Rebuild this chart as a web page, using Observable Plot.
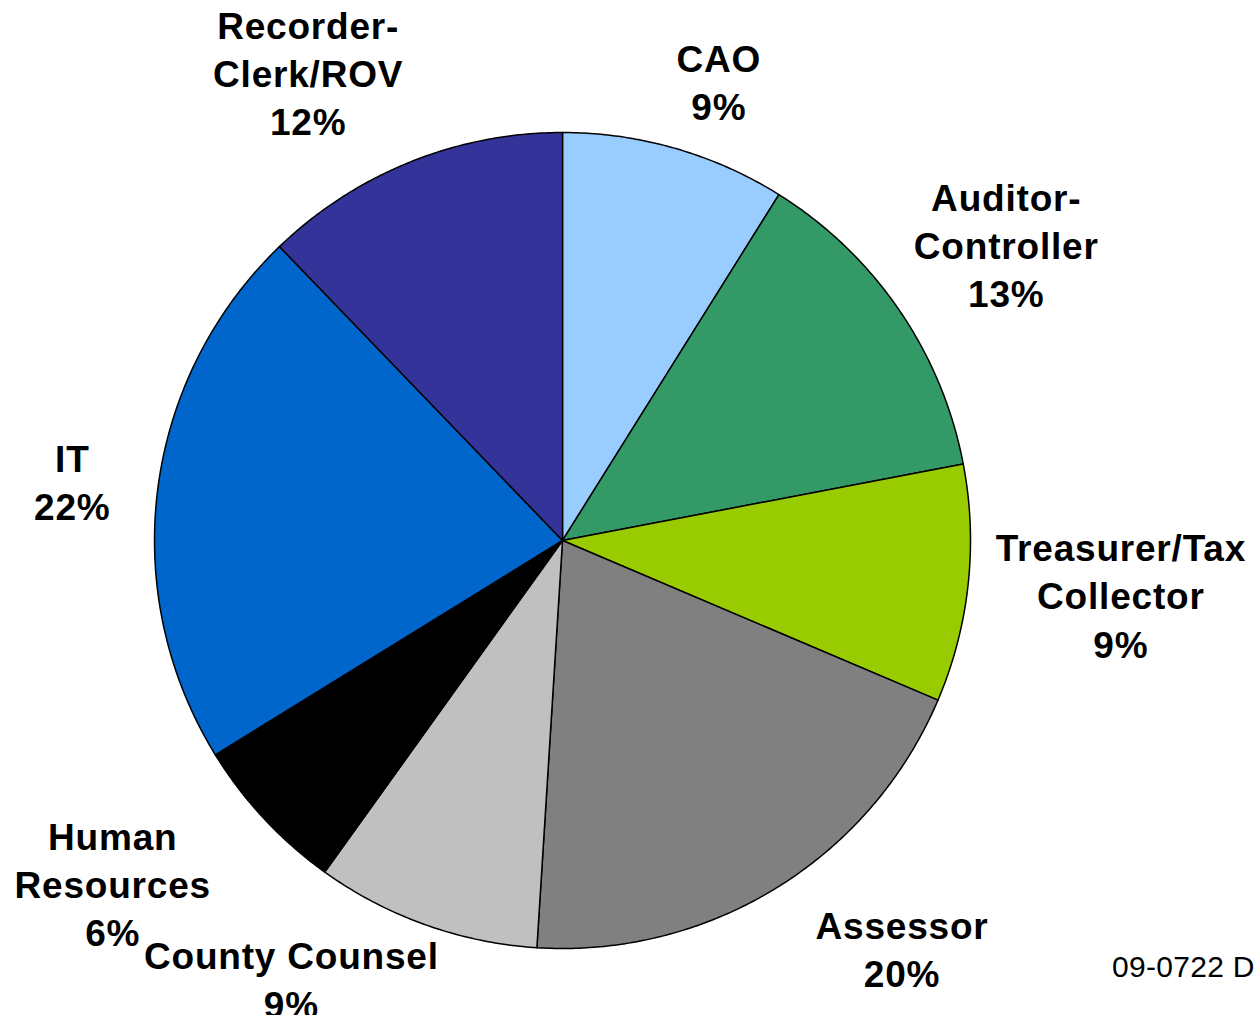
<!DOCTYPE html>
<html>
<head>
<meta charset="utf-8">
<script src="https://cdn.jsdelivr.net/npm/d3@7"></script>
<script src="https://cdn.jsdelivr.net/npm/@observablehq/plot@0.6"></script>
<style>
  html, body { margin: 0; padding: 0; background: #fff; }
  #wrap { position: relative; width: 1259px; height: 1015px; overflow: hidden; }
  .pie g[aria-label="text"] text { letter-spacing: 0.8px; }
  #code { position: absolute; left: 1112px; top: 952px; font: 30px "Liberation Sans", Arial, sans-serif; line-height: 30px; color: #000; letter-spacing: 0.3px; white-space: nowrap; }
</style>
</head>
<body>
<div id="wrap"><div id="chart"></div><div id="code">09-0722 D</div></div>
<script>
// ---- data ----
const names = ["CAO", "Auditor-\nController", "Treasurer/Tax\nCollector", "Assessor", "County Counsel", "Human\nResources", "IT", "Recorder-\nClerk/ROV"];
const values = [8.9, 13.1, 9.4, 19.6, 8.9, 6.3, 21.6, 12.2];
const colors = ["#99CCFF", "#339966", "#99CC00", "#808080", "#C0C0C0", "#000000", "#0066CC", "#333399"];

// ---- layout (label nudges in px, relative to a point outside each slice's mid angle) ----
const R = 408;
const labelNudge = [[10, 50], [6, 3], [31, -3], [61, -44], [-93, -62], [-62, -20], [36, 7], [-56, 23]];

const total = d3.sum(values);
const arcs = d3.pie().sort(null).value(d => d)(values);

const slicePts = [];
arcs.forEach((a, i) => {
  slicePts.push({name: names[i], x: 0, y: 0});
  const n = Math.max(2, Math.ceil((a.endAngle - a.startAngle) / (Math.PI / 360)));
  for (let k = 0; k <= n; k++) {
    const t = a.startAngle + (a.endAngle - a.startAngle) * k / n;
    slicePts.push({name: names[i], x: Math.sin(t), y: Math.cos(t)});
  }
});

const labels = arcs.map((a, i) => {
  const m = (a.startAngle + a.endAngle) / 2;
  const [dx, dy] = labelNudge[i];
  return {
    name: names[i],
    text: names[i] + "\n" + Math.round(values[i] / total * 100) + "%",
    x: 1.3 * Math.sin(m) + dx / R,
    y: 1.3 * Math.cos(m) - dy / R
  };
});

const chart = Plot.plot({
  className: "pie",
  width: 1259,
  height: 1015,
  marginLeft: 154,
  marginRight: 289,
  marginTop: 132,
  marginBottom: 67,
  x: {domain: [-1, 1], axis: null},
  y: {domain: [-1, 1], axis: null},
  color: {type: "ordinal", domain: names, range: colors},
  marks: [
    Plot.line(slicePts, {x: "x", y: "y", z: "name", fill: "name", stroke: "#000", strokeWidth: 1.5, curve: "linear-closed", strokeLinejoin: "round"}),
    Plot.text(labels, {x: "x", y: "y", text: "text", fontSize: 37, fontWeight: "bold", fontFamily: "'Liberation Sans', Arial, sans-serif", lineHeight: 1.3, lineAnchor: "middle", textAnchor: "middle", fill: "#000"})
  ]
});
document.getElementById("chart").appendChild(chart);
</script>
</body>
</html>
